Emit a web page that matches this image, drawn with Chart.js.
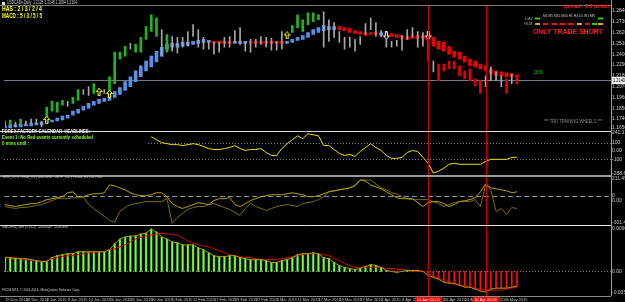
<!DOCTYPE html>
<html>
<head>
<meta charset="utf-8">
<script src="https://cdn.jsdelivr.net/npm/chart.js@4.4.0/dist/chart.umd.min.js"></script>
<style>
    html, body { margin: 0; padding: 0; background: #000; }
    canvas { display: block; }
</style>
</head>
<body>
<canvas id="chart" width="625" height="302"></canvas>
<script>
// USDCAD daily, 19 Dec 2014 .. 8 May 2015 (one entry per bar)
const dates = ['19 Dec 2014', '26 Dec 2014', '2 Jan 2015', '8 Jan 2015', '14 Jan 2015', '20 Jan 2015',
    '26 Jan 2015', '30 Jan 2015', '5 Feb 2015', '11 Feb 2015', '17 Feb 2015', '23 Feb 2015',
    '27 Feb 2015', '5 Mar 2015', '11 Mar 2015', '17 Mar 2015', '23 Mar 2015', '27 Mar 2015',
    '2 Apr 2015', '8 Apr 2015', '14 Apr 2015', '20 Apr 2015', '24 Apr 2015', '30 Apr 2015', '6 May 2015'];

const high = [1.172, 1.173, 1.171, 1.174, 1.172, 1.174, 1.174, 1.172, 1.186, 1.192,
    1.191, 1.193, 1.192, 1.196, 1.204, 1.204, 1.207, 1.210, 1.205, 1.204,
    1.217, 1.242, 1.242, 1.248, 1.251, 1.250, 1.257, 1.268, 1.280, 1.277,
    1.265, 1.260, 1.258, 1.257, 1.257, 1.263, 1.270, 1.265, 1.257, 1.253,
    1.252, 1.252, 1.257, 1.258, 1.264, 1.267, 1.252, 1.255, 1.255, 1.258,
    1.257, 1.256, 1.253, 1.263, 1.262, 1.269, 1.280, 1.275, 1.282, 1.282,
    1.280, 1.283, 1.275, 1.272, 1.263, 1.257, 1.257, 1.255, 1.258, 1.271,
    1.277, 1.272, 1.264, 1.262, 1.253, 1.254, 1.259, 1.265, 1.267, 1.263,
    1.262, 1.257, 1.233, 1.230, 1.230, 1.233, 1.233, 1.228, 1.223, 1.225,
    1.215, 1.213, 1.218, 1.227, 1.222, 1.218, 1.215, 1.220, 1.218];
const low = [1.167, 1.168, 1.166, 1.169, 1.168, 1.170, 1.169, 1.166, 1.170, 1.182,
    1.181, 1.188, 1.187, 1.190, 1.193, 1.199, 1.198, 1.200, 1.198, 1.200,
    1.202, 1.210, 1.235, 1.238, 1.245, 1.242, 1.242, 1.255, 1.263, 1.258,
    1.238, 1.242, 1.243, 1.241, 1.247, 1.248, 1.258, 1.247, 1.245, 1.245,
    1.240, 1.242, 1.247, 1.247, 1.252, 1.250, 1.243, 1.242, 1.247, 1.250,
    1.247, 1.244, 1.244, 1.245, 1.257, 1.262, 1.267, 1.263, 1.270, 1.273,
    1.275, 1.247, 1.253, 1.257, 1.252, 1.245, 1.247, 1.243, 1.250, 1.260,
    1.265, 1.258, 1.258, 1.247, 1.247, 1.248, 1.244, 1.255, 1.258, 1.247,
    1.248, 1.233, 1.222, 1.213, 1.223, 1.225, 1.225, 1.218, 1.215, 1.213,
    1.208, 1.200, 1.207, 1.213, 1.213, 1.207, 1.200, 1.210, 1.210];
// g = green, w = grey, r = red
const bar_kind = ('wgwgwwwwgg' + 'ggwggwwgww' + 'ggggwggggg' + 'wgwwwwwwww' + 'wwwwwwwwww' +
    'wwwwwggggg' + 'gwwwwwwwww' + 'wwwwwwwwww' + 'wrwrrrrrrr' + 'rrwwwwrwr').split('');

// trend band (u = blue under price, d = red over price)
const trail_low = [1.165, 1.165, 1.166, 1.166, 1.167, 1.167, 1.168, 1.168, 1.170, 1.171,
    1.172, 1.173, 1.175, 1.178, 1.180, 1.183, 1.185, 1.188, 1.190, 1.192,
    1.193, 1.196, 1.199, 1.203, 1.207, 1.212, 1.217, 1.223, 1.227, 1.232,
    1.238, 1.245, 1.247, 1.247, 1.248, 1.249, 1.250, 1.251, 1.252, 1.252,
    1.251, 1.251, 1.251, 1.251, 1.251, 1.251, 1.251, 1.251, 1.251, 1.251,
    1.251, 1.251, 1.251, 1.251, 1.251, 1.252, 1.254, 1.255, 1.257, 1.260,
    1.262, 1.264, 1.265, 1.265, 1.265, 1.264, 1.262, 1.261, 1.260, 1.259,
    1.260, 1.260, 1.259, 1.259, 1.258, 1.257, 1.256, 1.255, 1.256, 1.256,
    1.256, 1.254, 1.248, 1.245, 1.243, 1.240, 1.237, 1.235, 1.232, 1.228,
    1.227, 1.225, 1.223, 1.220, 1.218, 1.218, 1.217, 1.217, 1.217];
const trail_high = [1.167, 1.168, 1.168, 1.169, 1.169, 1.170, 1.170, 1.171, 1.172, 1.173,
    1.175, 1.177, 1.178, 1.182, 1.184, 1.187, 1.190, 1.192, 1.194, 1.195,
    1.197, 1.202, 1.206, 1.212, 1.217, 1.223, 1.228, 1.233, 1.238, 1.243,
    1.247, 1.250, 1.251, 1.251, 1.252, 1.252, 1.253, 1.254, 1.255, 1.254,
    1.253, 1.253, 1.253, 1.253, 1.253, 1.253, 1.253, 1.253, 1.253, 1.253,
    1.253, 1.253, 1.253, 1.253, 1.253, 1.255, 1.257, 1.259, 1.262, 1.265,
    1.267, 1.269, 1.268, 1.268, 1.268, 1.267, 1.266, 1.264, 1.263, 1.262,
    1.262, 1.262, 1.262, 1.261, 1.261, 1.260, 1.259, 1.258, 1.259, 1.259,
    1.259, 1.258, 1.257, 1.253, 1.252, 1.248, 1.243, 1.242, 1.238, 1.235,
    1.233, 1.230, 1.228, 1.225, 1.223, 1.222, 1.221, 1.220, 1.219];
const trail_dir = ('uuuuuuuuuu' + 'uuuuuuuuuu' + 'uuuuuuuuuu' + 'uuuuuuuuuu' + 'dddduuuddd' +
    'dddduuuuuu' + 'uuuudddddd' + 'dduddddddd' + 'dddddddddd' + 'ddddddddd').split('');

const up_arrow_bars = [8, 18, 20, 54];
const up_arrow_prices = [1.173, 1.2015, 1.1995, 1.259];
const down_arrow_bars = [73, 81];
const down_arrow_prices = [1.259, 1.259];
const bid = 1.214;
const vline_bars = [81, 92];
const vline_labels = ['15 Apr 00:00', '30 Apr 00:00'];

// calendar CCI pane
const cci = [null, null, null, null, null, null, null, null, null, null,
    null, null, null, null, null, null, null, null, null, null,
    null, null, null, null, null, null, null, null, 171, 135,
    100, 88, 76, 76, 65, 76, 88, 76, 53, 29,
    18, 18, 29, 41, 65, 29, 6, 18, 18, 29,
    -18, -53, -53, 29, 88, 135, 182, 147, 206, 194,
    182, 65, 65, 18, -29, -53, -41, -65, -6, 41,
    88, 41, 6, -53, -88, -88, -76, -18, 6, -6,
    -76, -147, -265, -241, -206, -159, -147, -159, -159, -159,
    -159, -159, -124, -100, -100, -100, -100, -76, -76];

// MTF CCI pane
const cci_h1 = [-90, -100, -110, -100, -90, -80, -80, -60, -40, -30,
    -20, -10, 30, 40, -10, -10, 10, 20, 20, 30,
    110, 100, 80, 60, 30, 10, 0, 0, 10, 30,
    30, -10, -80, -110, -130, -110, -90, -70, -80, -90,
    -50, -30, -30, -20, -90, -110, -80, -50, -30, -10,
    0, 10, 10, 10, 20, 30, 20, 10, -10, -10,
    0, 20, 40, 50, 60, 70, 80, 100, 160, 150,
    110, 90, 70, 40, 10, -20, -30, -30, -30, -70,
    -110, -70, -60, -60, -80, -110, -90, -60, -50, -40,
    -20, 40, 120, 80, 70, 60, 50, 30, 40];
const cci_h4 = [-110, -120, -130, -120, -120, -110, -100, -90, -70, -50,
    -30, -30, -30, -20, -20, -10, -90, -130, -170, -210,
    -250, -270, -160, -120, -90, -80, -70, -60, -60, -60,
    -60, -30, -280, -220, -180, -140, -120, -110, -110, -90,
    -80, -100, -120, -140, -170, -200, -130, -80, -110, -130,
    -150, -130, -110, -100, -90, -100, -110, -80, -70, -60,
    -40, -10, 40, 50, 60, 70, 80, 110, 160, 160,
    160, 120, 80, 60, 30, 20, -10, -30, -40, -40,
    -40, -40, -60, -80, -110, -90, -70, -60, -60, -60,
    -40, -110, 110, 60, -160, -130, -190, -120, -130];

// MACD pane
const macd = [0.0028, 0.0028, 0.0026, 0.0026, 0.0026, 0.0024, 0.0022, 0.0020, 0.0020, 0.0028,
    0.0032, 0.0034, 0.0036, 0.0036, 0.0040, 0.0040, 0.0040, 0.0040, 0.0040, 0.0040,
    0.0044, 0.0056, 0.0066, 0.0070, 0.0072, 0.0072, 0.0076, 0.0078, 0.0086, 0.0080,
    0.0070, 0.0066, 0.0060, 0.0058, 0.0054, 0.0054, 0.0054, 0.0048, 0.0044, 0.0038,
    0.0032, 0.0030, 0.0030, 0.0032, 0.0032, 0.0028, 0.0026, 0.0024, 0.0024, 0.0024,
    0.0022, 0.0018, 0.0018, 0.0022, 0.0024, 0.0028, 0.0034, 0.0036, 0.0036, 0.0038,
    0.0036, 0.0028, 0.0026, 0.0018, 0.0012, 0.0008, 0.0006, 0.0004, 0.0006, 0.0010,
    0.0014, 0.0012, 0.0008, 0.0002, 0, -0.0002, 0, 0.0002, 0.0002, 0.0002,
    0, -0.0008, -0.0012, -0.0016, -0.0022, -0.0024, -0.0024, -0.0028, -0.0032, -0.0032,
    -0.0036, -0.0040, -0.0042, -0.0036, -0.0034, -0.0034, -0.0034, -0.0032, -0.0030];
const macd_signal = [0.0030, 0.0028, 0.0028, 0.0026, 0.0024, 0.0022, 0.0022, 0.0020, 0.0022, 0.0026,
    0.0028, 0.0030, 0.0032, 0.0032, 0.0034, 0.0036, 0.0038, 0.0038, 0.0040, 0.0040,
    0.0044, 0.0046, 0.0050, 0.0054, 0.0060, 0.0066, 0.0070, 0.0072, 0.0074, 0.0076,
    0.0078, 0.0076, 0.0076, 0.0074, 0.0068, 0.0062, 0.0058, 0.0054, 0.0052, 0.0050,
    0.0046, 0.0042, 0.0038, 0.0034, 0.0032, 0.0030, 0.0028, 0.0028, 0.0026, 0.0024,
    0.0024, 0.0024, 0.0024, 0.0026, 0.0028, 0.0030, 0.0032, 0.0034, 0.0036, 0.0036,
    0.0036, 0.0034, 0.0032, 0.0026, 0.0022, 0.0016, 0.0012, 0.0008, 0.0008, 0.0008,
    0.0008, 0.0008, 0.0008, 0.0006, 0.0006, 0.0004, 0.0004, 0.0002, 0, 0,
    0, -0.0002, -0.0010, -0.0014, -0.0018, -0.0022, -0.0026, -0.0028, -0.0030, -0.0032,
    -0.0034, -0.0036, -0.0038, -0.0038, -0.0038, -0.0038, -0.0036, -0.0034, -0.0032];

// right-hand axis labels per pane
const main_ticks = [1.284, 1.273, 1.262, 1.251, 1.240, 1.229, 1.218, 1.207, 1.196, 1.185, 1.174, 1.165];
const cci_ticks = [218, 100, 0, -100, -265];
const cci_tick_labels = ['241.1702', '100', '0.00', '-100', '-288.6848'];
const mtf_ticks = [170, 0, -50, -270];
const mtf_tick_labels = ['211.4951', '0', '0.00', '-301.4286'];
const macd_ticks = [0.0088, 0, -0.0044];
const macd_tick_labels = ['0.009621', '0.00', '-0.005031'];

const slots = 117;
const labels = [];
for (let i = 0; i < slots; ++i) {
    labels.push(i % 4 === 0 && i / 4 < dates.length ? dates[i / 4] : '');
}

function by_kind(kind) {
    return high.map((h, i) => bar_kind[i] === kind ? [low[i], h] : null);
}

function by_dir(dir) {
    return trail_high.map((h, i) => trail_dir[i] === dir ? [trail_low[i], h] : null);
}

function marks(bars, prices) {
    const out = new Array(high.length).fill(null);
    bars.forEach((b, i) => out[b] = prices[i]);
    return out;
}

function arrow_canvas(color, up) {
    const c = document.createElement('canvas');
    c.width = 7;
    c.height = 8;
    const g = c.getContext('2d');
    const pts = up
        ? [[3.5, 0.5], [6.5, 3.5], [4.5, 3.5], [4.5, 7.5], [2.5, 7.5], [2.5, 3.5], [0.5, 3.5]]
        : [[3.5, 7.5], [6.5, 4.5], [4.5, 4.5], [4.5, 0.5], [2.5, 0.5], [2.5, 4.5], [0.5, 4.5]];
    g.beginPath();
    pts.forEach((p, i) => i ? g.lineTo(p[0], p[1]) : g.moveTo(p[0], p[1]));
    g.closePath();
    g.fillStyle = '#000';
    g.fill();
    g.strokeStyle = color;
    g.lineWidth = 1;
    g.stroke();
    return c;
}

function floating(data, color, width, axis, order) {
    return {
        type: 'bar', data: data, yAxisID: axis, backgroundColor: color,
        barThickness: width, grouped: false, borderWidth: 0, order: order
    };
}

function line(data, color, axis, order) {
    return {
        type: 'line', data: data, yAxisID: axis, borderColor: color, borderWidth: 1,
        pointRadius: 0, tension: 0, spanGaps: false, order: order
    };
}

function arrows(data, glyph) {
    return {
        type: 'line', data: data, yAxisID: 'yMain', showLine: false,
        pointStyle: glyph, pointRadius: 4, order: 0
    };
}

function pane_axis(stack_weight, min, max, values, texts) {
    return {
        type: 'linear', position: 'right', stack: 'panes', stackWeight: stack_weight,
        min: min, max: max, offset: false,
        grid: { display: false, drawTicks: false },
        border: { display: false },
        afterBuildTicks: (scale) => { scale.ticks = values.map(v => ({ value: v })); },
        afterFit: (scale) => { scale.width = 14; },
        ticks: {
            autoSkip: false, padding: 1, color: '#c8c8c8',
            font: { family: 'Liberation Sans', size: 5 },
            callback: (v, i) => texts[i]
        }
    };
}

const font = (size, bold) => `${bold ? 'bold ' : ''}${size}px "Liberation Sans", "DejaVu Sans", sans-serif`;

const notes = [
    ['USDCADe,Daily  1.2128 1.2148 1.2094 1.2104', 7, 3, '#d0d0d0', font(5), 70],
    ['HAS : 2 / 3 / 2 / 4', 2, 9.5, '#ffff00', font(7, true), 40],
    ['MACD : 5 / 3 / 5 / 5', 2, 16.5, '#ffff00', font(7, true), 40],
    ['spread : 2.0 points', 563, 6, '#ff2020', font(6, true), 47],
    ['M1 M5 M15 M30 H1 H4 D1 W1 MN', 543, 15.5, '#d0d0d0', font(4), 52],
    ['DAY', 525, 18.5, '#a0a0a0', font(4), 8],
    ['HLM', 524, 24, '#a0a0a0', font(4), 9],
    ['ONLY TRADE SHORT', 533, 32, '#ff1a1a', font(8, true), 70],
    ['28:59', 534, 73, '#22c822', font(5), 9],
    ['*** TRO TRAINING WHEELS ***', 544, 122, '#8c8c8c', font(5), 58],
    ['FOREX FACTORY CALENDAR  HEADLINES:', 2, 132, '#f0f0f0', font(5, true), 88],
    ['Event 1: No Red events currently scheduled', 2, 138, '#8cff2a', font(5, true), 91],
    ['0 mins until :', 2, 143.5, '#8cff2a', font(5, true), 27],
    ['#MTF_CCI | Period_H1 | -100.4994   #MTF_CCI | Period_H4 | 34.7904', 2, 177, '#d0d0d0', font(4), 100],
    ['MACDmia_slan (5,35,5)  -0.004339  -0.003690', 2, 227, '#d0d0d0', font(4), 66],
    ['FXCM MT4, \u00a9 2001-2014, MetaQuotes Software Corp.', 2, 290, '#d0d0d0', font(4), 78]
];
const tf_row_x = [535, 543, 552, 560, 568, 577, 585, 592, 598];
const tf_row_day = ['#22cc22', null, null, null, null, null, null, null, '#22cc22'];
const tf_row_hlm = ['#e0b000', '#ee1111', '#ee1111', '#ee1111', '#ee1111', '#e0b000', '#ee1111', '#22cc22', '#e0b000'];

function hline(ctx, x0, x1, y, color, dash, width) {
    ctx.beginPath();
    ctx.setLineDash(dash || []);
    ctx.strokeStyle = color;
    ctx.lineWidth = width || 1;
    const yy = (width || 1) % 2 ? Math.round(y) + 0.5 : Math.round(y);
    ctx.moveTo(x0, yy);
    ctx.lineTo(x1, yy);
    ctx.stroke();
    ctx.setLineDash([]);
}

const overlay = {
    id: 'overlay',
    beforeDatasetsDraw(chart) {
        const ctx = chart.ctx;
        const a = chart.chartArea;
        const s = chart.scales;
        ctx.save();
        hline(ctx, a.left - 1, a.right, s.yMain.getPixelForValue(bid), '#6c7c8c');
        hline(ctx, 148, a.right, s.yCci.getPixelForValue(100), '#808080', [1, 2]);
        hline(ctx, a.left - 1, a.right, s.yCci.getPixelForValue(-100), '#808080', [1, 2]);
        hline(ctx, a.left - 1, a.right, s.yMtf.getPixelForValue(0), '#8c8c8c', [5, 3]);
        hline(ctx, a.left - 1, a.right, s.yMacd.getPixelForValue(0), '#808080', [1, 2]);
        ctx.restore();
    },
    afterDatasetsDraw(chart) {
        const ctx = chart.ctx;
        const a = chart.chartArea;
        const s = chart.scales;
        ctx.save();
        ctx.strokeStyle = '#d00000';
        ctx.lineWidth = 1;
        for (const b of vline_bars) {
            const x = Math.round(s.x.getPixelForValue(b)) + 0.5;
            ctx.beginPath();
            ctx.moveTo(x, a.top);
            ctx.lineTo(x, a.bottom);
            ctx.stroke();
        }
        hline(ctx, 0, a.right, s.yMain.top, '#7c7c7c');
        hline(ctx, 0, a.right, s.yCci.top, '#d8d8d8');
        hline(ctx, 0, a.right, s.yMtf.top + 1, '#9a9a9a', null, 2);
        hline(ctx, 0, a.right, s.yMacd.top, '#e8e8e8');
        hline(ctx, 0, a.right, a.bottom, '#8a8a8a');
        ctx.strokeStyle = '#9a9a9a';
        ctx.beginPath();
        ctx.moveTo(Math.round(a.right) + 0.5, 0);
        ctx.lineTo(Math.round(a.right) + 0.5, a.bottom);
        ctx.stroke();

        ctx.fillStyle = '#e0e0e0';
        ctx.fillRect(2, 2, 3, 3);
        ctx.textBaseline = 'middle';
        ctx.textAlign = 'left';
        for (const [text, x, y, color, f, w] of notes) {
            ctx.font = f;
            ctx.fillStyle = color;
            ctx.fillText(text, x, y, w);
        }
        tf_row_x.forEach((x, i) => {
            if (tf_row_day[i]) {
                ctx.fillStyle = tf_row_day[i];
                ctx.fillRect(x, 17.5, 5, 2);
            }
            ctx.fillStyle = tf_row_hlm[i];
            ctx.fillRect(x, 23, 5, 2);
        });
        ctx.restore();
    },
    afterDraw(chart) {
        const ctx = chart.ctx;
        const a = chart.chartArea;
        const s = chart.scales;
        ctx.save();
        const y = Math.round(s.yMain.getPixelForValue(bid));
        ctx.fillStyle = '#f2f2f2';
        ctx.fillRect(a.right + 1, y - 3, 14, 7);
        ctx.fillStyle = '#000';
        ctx.font = font(5);
        ctx.textBaseline = 'middle';
        ctx.fillText(bid.toFixed(4), a.right + 2, y + 0.5, 12);
        vline_bars.forEach((b, i) => {
            const x = s.x.getPixelForValue(b);
            ctx.fillStyle = '#ee0000';
            ctx.fillRect(x - 13, a.bottom + 1, 27, 6);
            ctx.fillStyle = '#f0f0f0';
            ctx.font = font(4);
            ctx.textAlign = 'center';
            ctx.fillText(vline_labels[i], x, a.bottom + 4, 25);
        });
        ctx.restore();
    }
};

new Chart(document.getElementById('chart'), {
    type: 'bar',
    data: {
        labels: labels,
        datasets: [
            arrows(marks(up_arrow_bars, up_arrow_prices), arrow_canvas('#ffff00', true)),
            arrows(marks(down_arrow_bars, down_arrow_prices), arrow_canvas('#ffffff', false)),
            floating(by_kind('w'), '#a6a6a6', 1, 'yMain', 3),
            floating(by_kind('g'), '#22b422', 2, 'yMain', 3),
            floating(by_kind('r'), '#e80000', 2, 'yMain', 3),
            floating(by_dir('u'), '#5b8fe6', 3, 'yMain', 4),
            floating(by_dir('d'), '#f00000', 3, 'yMain', 4),
            line(cci, '#f0e000', 'yCci', 1),
            line(cci_h1, '#b8a400', 'yMtf', 1),
            line(cci_h4, '#7c6e00', 'yMtf', 2),
            line(macd, '#a8a000', 'yMacd', 1),
            line(macd_signal, '#d00000', 'yMacd', 1),
            floating(macd.map(v => v > 0 ? v : null), '#1b6e1b', 2, 'yMacd', 6),
            floating(macd.map(v => v > 0 ? v : null), '#80ff40', 1, 'yMacd', 5),
            floating(macd.map(v => v < 0 ? v : null), '#ff1010', 1, 'yMacd', 5)
        ]
    },
    options: {
        responsive: false,
        animation: false,
        events: [],
        layout: { padding: { left: 1, right: 0, top: 0, bottom: 0 } },
        plugins: { legend: { display: false }, tooltip: { enabled: false } },
        scales: {
            x: {
                type: 'category', offset: false,
                grid: { display: false, drawTicks: false },
                border: { display: false },
                afterFit: (scale) => { scale.height = 6; },
                ticks: {
                    autoSkip: false, maxRotation: 0, minRotation: 0, align: 'start', padding: 1,
                    color: '#c8c8c8', font: { family: 'Liberation Sans', size: 4 }
                }
            },
            yMain: pane_axis(128, 1.162, 1.29, main_ticks, main_ticks.map(v => v.toFixed(4))),
            yCci: pane_axis(45, -288.2, 241.2, cci_ticks, cci_tick_labels),
            yMtf: pane_axis(51, -300, 210, mtf_ticks, mtf_tick_labels),
            yMacd: pane_axis(72, -0.005, 0.0094, macd_ticks, macd_tick_labels)
        }
    },
    plugins: [overlay]
});
</script>
</body>
</html>
